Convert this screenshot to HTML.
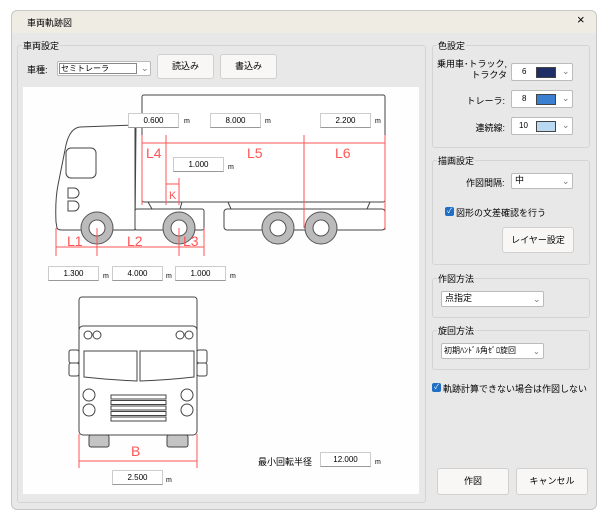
<!DOCTYPE html>
<html><head><meta charset="utf-8"><style>
*{box-sizing:border-box;margin:0;padding:0}
body{width:612px;height:524px;background:#fff;font-family:"Liberation Sans","Noto Sans CJK JP",sans-serif;font-size:9px;color:#000;position:relative;overflow:hidden}
.a{position:absolute}
.dlg{left:11px;top:10px;width:586px;height:500px;background:#e8e8e8;border:1px solid #c8c8c8;border-radius:6px;overflow:hidden}
.tb{left:0;top:0;width:100%;height:23px;background:#efece4}
.grp{border:1px solid #d4d4d4;border-radius:3px}
.gl{background:#e8e8e8;padding:0 1px;font-size:9px}
.btn{background:#f8f7f5;border:1px solid #d0d0d0;border-radius:3px;text-align:center;font-size:9px}
.cb{background:#fff;border:1px solid #bbb;border-radius:2px;font-size:9px}
.inp{background:#fff;border:1px solid #ccc;border-bottom-color:#999;text-align:center;font-size:8px;line-height:13px}
.chk{width:9px;height:9px;background:#1f6fc6;border-radius:2px;color:#fff;font-size:7px;line-height:9px;text-align:center}
</style></head><body>
<div class="a dlg"></div>
<div class="a tb" style="left:12px;top:11px;width:584px;height:22px;border-radius:6px 6px 0 0"></div>
<div class="a" style="left:27px;top:16px;font-size:9px">車両軌跡図</div>
<div class="a" style="left:577px;top:12px;font-size:13px">×</div>

<div class="a grp" style="left:17px;top:45px;width:409px;height:458px"></div>
<div class="a gl" style="left:22px;top:39px">車両設定</div>
<div class="a" style="left:27px;top:63px">車種:</div>
<div class="a cb" style="left:57px;top:61px;width:94px;height:15px"><div class="a" style="left:1px;top:1px;width:78px;height:11px;border:1px solid #888;font-size:8px;line-height:9px;padding-left:1px">セミトレーラ</div><div class="a" style="left:83px;top:1px;color:#777">⌄</div></div>
<div class="a btn" style="left:157px;top:54px;width:57px;height:25px;line-height:23px">読込み</div>
<div class="a btn" style="left:220px;top:54px;width:57px;height:25px;line-height:23px">書込み</div>

<div class="a" style="left:23px;top:87px;width:396px;height:407px;background:#fefefe"></div>
<svg class="a" style="left:0;top:0" width="612" height="524" fill="none" stroke="#444" stroke-width="1">
<path d="M136,125 L80,127 Q70,128 66,145 L58,185 Q55,200 56,222 L57,228 Q58,230 62,230 L135,230 Z" fill="#fff"/>
<rect x="66" y="148" width="30" height="30" rx="5"/>
<path d="M68,188 h6 a5,5 0 0 1 0,10 h-6 z M68,201 h6 a5,5 0 0 1 0,10 h-6 z"/>
<rect x="135" y="209" width="69" height="21" rx="2" fill="#fff"/>
<line x1="135" y1="125" x2="135" y2="230"/>
<rect x="142" y="95" width="243" height="107" rx="2" fill="#fff"/>
<rect x="224" y="209" width="161" height="21" rx="3" fill="#fff"/>
<path d="M148,202 l4,7 M182,202 l-2,7 M228,202 l3,7 M370,202 l-3,7"/>
<g fill="#bbb" stroke="#555"><circle cx="97" cy="228" r="16"/><circle cx="179" cy="228" r="16"/><circle cx="278" cy="228" r="16"/><circle cx="321" cy="228" r="16"/></g>
<g fill="#fff" stroke="#555"><circle cx="97" cy="228" r="8"/><circle cx="179" cy="228" r="8"/><circle cx="278" cy="228" r="8"/><circle cx="321" cy="228" r="8"/></g>
<g stroke="#f55">
<line x1="142" y1="143" x2="385" y2="143"/>
<line x1="142" y1="135" x2="142" y2="205"/><line x1="166" y1="135" x2="166" y2="205"/>
<line x1="304" y1="135" x2="304" y2="228"/><line x1="385" y1="135" x2="385" y2="230"/>
<line x1="166" y1="184" x2="179" y2="184"/><line x1="179" y1="178" x2="179" y2="205"/>
<line x1="56" y1="247" x2="204" y2="247"/>
<line x1="56" y1="228" x2="56" y2="256"/><line x1="97" y1="228" x2="97" y2="256"/><line x1="179" y1="228" x2="179" y2="256"/><line x1="204" y1="228" x2="204" y2="256"/>
<line x1="79" y1="461" x2="197" y2="461"/><line x1="79" y1="434" x2="79" y2="468"/><line x1="197" y1="434" x2="197" y2="468"/>
</g>
<g fill="#f55" stroke="none" font-family="Liberation Sans,sans-serif" font-size="14">
<text x="146" y="158">L4</text><text x="247" y="158">L5</text><text x="335" y="158">L6</text>
<text x="169" y="199" font-size="11">K</text>
<text x="67" y="246">L1</text><text x="127" y="246">L2</text><text x="183" y="246">L3</text>
<text x="131" y="456">B</text>
</g>
<rect x="79" y="297" width="118" height="40" rx="3" fill="#fff"/>
<rect x="79" y="326" width="118" height="109" rx="4" fill="#fff"/>
<circle cx="88" cy="335" r="4"/><circle cx="97" cy="335" r="4"/><circle cx="180" cy="335" r="4"/><circle cx="189" cy="335" r="4"/>
<path d="M84,351 h53 v30 Q110,380 84,377 Z M140,351 h54 v26 Q168,380 140,381 Z"/>
<rect x="69" y="350" width="10" height="13" rx="2"/><rect x="69" y="363" width="10" height="13" rx="2"/>
<rect x="197" y="350" width="10" height="13" rx="2"/><rect x="197" y="363" width="10" height="13" rx="2"/>
<circle cx="89" cy="395" r="6"/><circle cx="89" cy="410" r="6"/><circle cx="187" cy="395" r="6"/><circle cx="187" cy="410" r="6"/>
<g><rect x="111" y="395" width="55" height="4"/><rect x="111" y="400.5" width="55" height="4"/><rect x="111" y="406" width="55" height="4"/><rect x="111" y="411.5" width="55" height="4"/><rect x="111" y="417" width="55" height="4"/></g>
<rect x="89" y="435" width="20" height="12" rx="2" fill="#c4c4c4"/><rect x="167" y="435" width="21" height="12" rx="2" fill="#c4c4c4"/>
</svg>
<div class="a inp" style="left:128px;top:113px;width:51px;height:15px">0.600</div><div class="a" style="left:184px;top:118px;font-size:7px">m</div>
<div class="a inp" style="left:210px;top:113px;width:51px;height:15px">8.000</div><div class="a" style="left:265px;top:118px;font-size:7px">m</div>
<div class="a inp" style="left:320px;top:113px;width:51px;height:15px">2.200</div><div class="a" style="left:375px;top:118px;font-size:7px">m</div>
<div class="a inp" style="left:173px;top:157px;width:51px;height:15px">1.000</div><div class="a" style="left:228px;top:164px;font-size:7px">m</div>
<div class="a inp" style="left:48px;top:266px;width:51px;height:15px">1.300</div><div class="a" style="left:103px;top:273px;font-size:7px">m</div>
<div class="a inp" style="left:112px;top:266px;width:51px;height:15px">4.000</div><div class="a" style="left:166px;top:273px;font-size:7px">m</div>
<div class="a inp" style="left:175px;top:266px;width:51px;height:15px">1.000</div><div class="a" style="left:230px;top:273px;font-size:7px">m</div>
<div class="a inp" style="left:112px;top:470px;width:51px;height:15px">2.500</div><div class="a" style="left:166px;top:477px;font-size:7px">m</div>
<div class="a" style="left:258px;top:455px">最小回転半径</div>
<div class="a inp" style="left:320px;top:452px;width:51px;height:15px">12.000</div><div class="a" style="left:375px;top:459px;font-size:7px">m</div>

<div class="a grp" style="left:432px;top:45px;width:158px;height:103px"></div>
<div class="a gl" style="left:437px;top:39px">色設定</div>
<div class="a" style="left:420px;top:59px;width:87px;text-align:right;line-height:11px;white-space:nowrap">乗用車･トラック,<br>トラクタ</div>
<div class="a" style="left:440px;top:94px;width:65px;text-align:right">トレーラ:</div>
<div class="a" style="left:440px;top:121px;width:65px;text-align:right">連続線:</div>
<div class="a cb" style="left:511px;top:63px;width:62px;height:18px"><span class="a" style="left:10px;top:3px;font-size:8px">6</span><div class="a" style="left:24px;top:3px;width:20px;height:11px;background:#1f2f66;border:1px solid #444"></div><span class="a" style="left:50px;top:2px;color:#777">⌄</span></div>
<div class="a cb" style="left:511px;top:90px;width:62px;height:18px"><span class="a" style="left:10px;top:3px;font-size:8px">8</span><div class="a" style="left:24px;top:3px;width:20px;height:11px;background:#3a7fd0;border:1px solid #444"></div><span class="a" style="left:50px;top:2px;color:#777">⌄</span></div>
<div class="a cb" style="left:511px;top:117px;width:62px;height:18px"><span class="a" style="left:7px;top:3px;font-size:8px">10</span><div class="a" style="left:24px;top:3px;width:20px;height:11px;background:#b9d9f3;border:1px solid #444"></div><span class="a" style="left:50px;top:2px;color:#777">⌄</span></div>

<div class="a grp" style="left:432px;top:160px;width:158px;height:105px"></div>
<div class="a gl" style="left:437px;top:154px">描画設定</div>
<div class="a" style="left:466px;top:176px">作図間隔:</div>
<div class="a cb" style="left:511px;top:173px;width:62px;height:16px;padding-left:3px;line-height:13px">中<span class="a" style="left:50px;top:1px;color:#777">⌄</span></div>
<div class="a chk" style="left:445px;top:207px">✓</div><div class="a" style="left:456px;top:206px">図形の文差確認を行う</div>
<div class="a btn" style="left:502px;top:227px;width:72px;height:26px;line-height:24px">レイヤー設定</div>

<div class="a grp" style="left:432px;top:278px;width:158px;height:40px"></div>
<div class="a gl" style="left:437px;top:272px">作図方法</div>
<div class="a cb" style="left:441px;top:291px;width:103px;height:16px;padding-left:3px;line-height:13px">点指定<span class="a" style="left:91px;top:1px;color:#777">⌄</span></div>

<div class="a grp" style="left:432px;top:330px;width:158px;height:40px"></div>
<div class="a gl" style="left:437px;top:324px">旋回方法</div>
<div class="a cb" style="left:441px;top:343px;width:103px;height:16px;padding-left:2px;line-height:13px;font-size:8px">初期ﾊﾝﾄﾞﾙ角ｾﾞﾛ旋回<span class="a" style="left:91px;top:1px;color:#777">⌄</span></div>

<div class="a chk" style="left:432px;top:383px">✓</div><div class="a" style="left:443px;top:382px">軌跡計算できない場合は作図しない</div>

<div class="a btn" style="left:437px;top:468px;width:72px;height:27px;line-height:25px">作図</div>
<div class="a btn" style="left:516px;top:468px;width:72px;height:27px;line-height:25px">キャンセル</div>
</body></html>
